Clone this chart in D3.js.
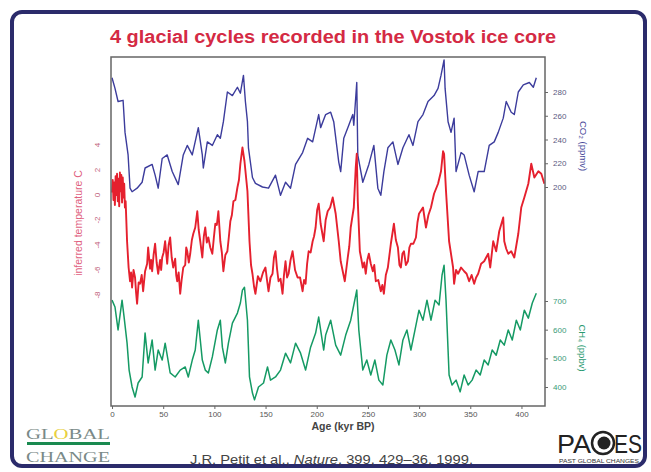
<!DOCTYPE html>
<html>
<head>
<meta charset="utf-8">
<script src="https://cdn.jsdelivr.net/npm/d3@7"></script>
<style>
body{margin:0;background:#fff}
svg{display:block}
</style>
</head>
<body>
<div id="chart"></div>
<script>
// values: [age kyr BP, value]
var tempData = [[0,0.2],[0.7,1.2],[1.4,-0.4],[2.1,1.0],[2.8,-0.8],[3.5,1.5],[4.2,0.0],[4.9,1.7],[5.6,-0.5],[6.3,1.3],
  [7,-0.9],[7.7,1.8],[8.4,0.3],[9.1,1.6],[9.8,-0.6],[10.5,1.4],[11.2,-0.2],[11.9,0.9],[12.6,-1.0],[13.3,-0.5],
  [14.7,-3.7],[16.2,-5.8],[17.6,-6.9],[18.6,-6.2],[19.6,-7.4],[21,-6.0],[22.5,-6.6],[23.5,-7.8],[24.5,-8.7],[26,-7.0],
  [27.4,-7.1],[29,-6.4],[30.4,-7.7],[32.3,-6.1],[34.3,-5.5],[35.3,-4.2],[37.2,-5.9],[38.2,-5.2],[39.2,-6.1],[40.6,-4.8],
  [42.1,-3.9],[43.6,-5.4],[45.1,-6.3],[47,-5.2],[48,-6.0],[49,-5.0],[50.4,-4.6],[51.9,-3.7],[53.9,-5.5],[55.3,-4.0],
  [56.8,-3.4],[58.3,-5.0],[59.8,-5.8],[61.7,-5.1],[62.7,-6.4],[63.7,-6.9],[65.1,-6.2],[66.6,-7.9],[68,-6.8],[69.6,-5.8],
  [71.5,-5.6],[72.5,-4.2],[73.5,-4.5],[75,-5.4],[76.4,-4.7],[78,-3.6],[79.4,-3.1],[81.3,-2.6],[83.3,-1.3],[84.7,-2.8],
  [86.2,-3.7],[88.2,-5.0],[89.7,-3.3],[91.1,-2.6],[92.6,-3.8],[94.1,-3.4],[96,-4.2],[98,-4.7],[99.5,-3.4],[100.9,-2.3],
  [102.4,-2.4],[103.9,-1.3],[105.8,-3.7],[107.3,-4.6],[108.8,-6.1],[110.7,-4.8],[112.7,-4.5],[114.2,-3.3],[115.6,-2.1],[117.1,-1.6],
  [118.6,-0.5],[120.5,-0.4],[122.5,0.6],[124,1.2],[125.4,2.5],[127.4,3.8],[129.4,2.7],[132.3,0.3],[134.3,-3.7],[135.8,-5.6],
  [137.2,-6.3],[138.7,-7.3],[140.1,-7.9],[142.5,-6.5],[145,-6.9],[147.5,-6.2],[149.9,-5.8],[151.4,-6.8],[152.9,-7.7],[154.8,-6.6],
  [156.8,-6.3],[158.2,-5.0],[159.7,-4.5],[161.2,-5.9],[162.7,-6.9],[164.6,-6.7],[166.6,-7.9],[168,-6.4],[169.5,-5.3],[171,-6.6],
  [172.5,-6.3],[174.4,-5.2],[176.4,-4.5],[178.8,-6.0],[181.3,-6.6],[183.7,-6.6],[186.2,-7.7],[187.6,-6.8],[189.1,-7.1],[190.6,-5.5],
  [192.1,-4.5],[194,-4.6],[196,-3.7],[197.4,-3.3],[198.9,-2.6],[200.4,-1.2],[201.9,-0.7],[203.8,-2.3],[206.8,-3.7],[208.7,-2.0],
  [210.7,-1.3],[213.1,-1.0],[215.6,-0.2],[218.5,-1.5],[221.5,-3.7],[223.4,-5.3],[225.4,-6.1],[227.4,-6.9],[230.3,-5.0],[231.8,-4.1],
  [233.2,-2.6],[236.2,-1.0],[238.1,2.2],[239.1,3.3],[240.1,-0.5],[242.1,-4.5],[243.5,-5.1],[245,-5.8],[246.4,-5.4],[247.9,-6.3],
  [249.4,-5.2],[250.9,-4.7],[252.8,-5.5],[254.8,-6.1],[256.2,-5.6],[257.7,-6.9],[260.1,-6.8],[262.6,-7.7],[264.1,-7.2],[265.6,-7.9],
  [267.5,-6.4],[269.5,-5.8],[272.4,-3.9],[275.4,-2.3],[277.3,-3.6],[279.3,-4.2],[280.8,-5.6],[282.2,-5.8],[283.7,-4.7],[285.2,-4.5],
  [287.1,-5.6],[289.1,-5.3],[290.5,-4.2],[292,-3.9],[294.4,-3.9],[296.9,-3.4],[298.4,-2.2],[299.9,-1.5],[303.8,-1.0],[306.7,-2.6],
  [309.1,-1.6],[311.6,-1.0],[314.6,0.1],[318.5,0.9],[321.4,1.9],[323.4,3.5],[324.4,3.3],[326.3,0.3],[329.3,-3.7],[333.2,-5.8],
  [334.2,-7.1],[336.1,-6.0],[338.1,-6.3],[341,-5.8],[344,-6.1],[346.4,-6.3],[348.9,-6.9],[351.3,-6.4],[353.8,-7.1],[355.7,-6.6],
  [357.7,-6.3],[360.6,-5.5],[363.6,-5.3],[365.5,-5.0],[367.5,-4.7],[369.5,-5.8],[372.4,-3.7],[375.3,-4.5],[378.3,-2.9],[382.2,-1.8],
  [383.2,-3.7],[385.1,-4.3],[387.1,-4.7],[390,-4.5],[393,-5.0],[396.9,-3.1],[399.8,-1.0],[402.8,-0.2],[406.7,0.9],[409.6,2.5],
  [412.6,1.4],[416.5,1.9],[419.4,1.7],[422.4,0.9]]

var co2Data = [[0,292],[2.9,283],[5.9,272],[10.8,273],[12.7,246],[15.7,227],[17.6,199],[19.6,196],[24.5,199],[29.4,204],
  [32.3,216],[39.2,219],[42.1,210],[45.1,199],[49,224],[53.9,227],[58.8,213],[64.7,202],[69.6,227],[73.5,235],
  [78.4,227],[84.3,250],[88.2,227],[89.2,216],[93.1,238],[98,235],[102.9,244],[105.8,241],[108.8,255],[112.7,280],
  [117.6,277],[122.5,284],[125.4,279],[128.4,294],[130.3,272],[132.3,255],[133.3,233],[137.2,208],[140.1,203],[147,200],
  [152.9,199],[159.7,210],[164.6,193],[169.5,204],[174.4,199],[179.3,219],[186.2,229],[191.1,241],[196,238],[201.9,261],
  [203.8,250],[208.7,261],[213.6,263],[216.6,255],[221.5,221],[223.4,213],[226.4,241],[231.3,252],[235.2,261],[236.2,252],
  [239.1,288],[240.1,227],[245,204],[250.9,219],[255.8,235],[259.7,199],[262.6,193],[265.6,213],[269.5,233],[274.4,238],
  [279.3,219],[284.2,233],[290.1,244],[294,235],[298.9,255],[303.8,261],[308.7,272],[314.6,277],[318.5,283],[321.4,294],
  [324.4,307],[325.4,283],[328.3,255],[331.2,246],[334.2,258],[336.1,213],[341,229],[344,227],[348.9,210],[353.8,196],
  [357.7,213],[363.6,213],[368.5,235],[373.4,238],[377.3,246],[382.2,258],[385.1,272],[390,263],[393,261],[396.9,280],
  [401.8,286],[407.7,288],[411.6,284],[414.5,292]]

var ch4Data = [[0,703],[2.9,679],[5.9,599],[9.8,703],[11.8,644],[14.7,553],[16.7,459],[19.6,400],[22.5,365],[25.5,414],
  [29.4,435],[32.3,588],[35.3,484],[39.2,564],[42.1,459],[45.1,529],[49,494],[51.9,553],[56.8,449],[61.7,435],
  [66.6,459],[71.5,470],[74.5,435],[78.4,494],[81.3,529],[84.3,633],[88.2,494],[91.1,459],[94.1,449],[98,505],
  [102.9,599],[105.8,633],[107.8,539],[110.7,484],[113.7,553],[117.6,623],[122.5,658],[125.4,693],[127.4,738],[129.4,748],
  [132.3,633],[134.3,435],[137.2,379],[139.2,355],[143.1,400],[148,414],[151.9,470],[154.8,424],[159.7,435],[164.6,459],
  [169.5,518],[174.4,484],[179.3,553],[184.2,518],[189.1,459],[194,539],[198.9,588],[201.9,644],[206.8,529],[208.7,581],
  [213.6,633],[218.5,546],[223.4,511],[228.3,581],[233.2,633],[236.2,686],[239.1,738],[241.1,599],[245,459],[248.9,494],
  [252.8,442],[256.8,494],[260.7,424],[264.6,407],[268.5,511],[272.4,564],[276.4,529],[280.3,477],[284.2,564],[288.1,599],
  [292,529],[296,599],[299.9,668],[303.8,633],[307.7,703],[311.6,633],[315.6,703],[319.5,686],[322.4,790],[324.4,825],
  [326.3,703],[329.3,442],[332.2,407],[336.1,424],[340.1,383],[344,442],[347.9,407],[351.8,424],[355.7,459],[359.7,442],
  [363.6,494],[367.5,477],[371.4,529],[375.3,511],[379.3,564],[383.2,546],[387.1,599],[391,564],[395,633],[398.9,599],
  [402.8,668],[406.7,640],[410.6,693],[414.5,727]]

var ageTicks = [0,50,100,150,200,250,300,350,400]
var tempTicks = [4,2,0,-2,-4,-6,-8]
var co2Ticks = [280,260,240,220,200]
var ch4Ticks = [700,600,500,400]

var W = 651, H = 472
var sans = '"Liberation Sans",Arial,sans-serif'
var serif = '"Liberation Serif","DejaVu Serif",serif'
var svg = d3.select('#chart').append('svg').attr('width',W).attr('height',H)
  .style('font-family',sans)

// navy slide frame
svg.append('rect')
  .attr('x',12).attr('y',12).attr('width',633).attr('height',454).attr('rx',10)
  .attr('fill','#fff').attr('stroke','#2b2b6b').attr('stroke-width',4)

var pLeft = 111, pRight = 545, pTop = 57, pBottom = 406
var x = d3.scaleLinear().domain([-1,423]).range([pLeft,pRight])
var yT = d3.scaleLinear().domain([-8,4]).range([295,145])
var yC = d3.scaleLinear().domain([200,280]).range([187,92])
var yM = d3.scaleLinear().domain([400,700]).range([387,301])

svg.append('text')
  .attr('x',110).attr('y',43)
  .attr('font-size',18).attr('font-weight','bold').attr('fill','#d42a44')
  .attr('textLength',446).attr('lengthAdjust','spacingAndGlyphs')
  .text('4 glacial cycles recorded in the Vostok ice core')

svg.append('defs').append('clipPath').attr('id','plotClip')
  .append('rect').attr('x',pLeft).attr('y',pTop).attr('width',pRight-pLeft).attr('height',pBottom-pTop)

var plot = svg.append('g').attr('clip-path','url(#plotClip)')

function drawLine(data, y, clr, wid){
  plot.append('path')
    .datum(data)
    .attr('fill','none')
    .attr('stroke',clr)
    .attr('stroke-width',wid)
    .attr('stroke-linejoin','round')
    .attr('d', d3.line().x(function(d){return x(d[0])}).y(function(d){return y(d[1])}))
}
drawLine(co2Data, yC, '#3c3c9c', 1.4)
drawLine(ch4Data, yM, '#159a64', 1.5)
drawLine(tempData, yT, '#e5202e', 1.9)

// plot box
svg.append('rect')
  .attr('x',pLeft).attr('y',pTop).attr('width',pRight-pLeft).attr('height',pBottom-pTop)
  .attr('fill','none').attr('stroke','#666').attr('stroke-width',1.5)

// x axis
var xAxis = svg.append('g')
  .attr('transform','translate(0,'+pBottom+')')
  .call(d3.axisBottom(x).tickValues(ageTicks).tickSize(3).tickPadding(2))
xAxis.select('.domain').remove()
xAxis.selectAll('line').attr('stroke','#666')
xAxis.selectAll('text').attr('font-size',8).attr('fill','#555').style('font-family',sans)

svg.append('text')
  .attr('x',343).attr('y',430).attr('text-anchor','middle')
  .attr('font-size',10.5).attr('font-weight','bold').attr('fill','#444')
  .text('Age (kyr BP)')

// left temperature axis, labels turned sideways
svg.append('g').selectAll('text').data(tempTicks).enter().append('text')
  .attr('transform',function(d){return 'translate(97,'+yT(d)+') rotate(-90)'})
  .attr('text-anchor','middle').attr('dy','0.35em')
  .attr('font-size',8).attr('fill','#c0607a')
  .text(function(d){return d})
svg.append('text')
  .attr('transform','translate(78,223) rotate(-90)')
  .attr('text-anchor','middle').attr('dy','0.35em')
  .attr('font-size',10.5).attr('fill','#e0607e')
  .text('inferred temperature C')

// right CO2 axis
var cAxis = svg.append('g')
  .attr('transform','translate('+pRight+',0)')
  .call(d3.axisRight(yC).tickValues(co2Ticks).tickSize(3).tickPadding(5))
cAxis.select('.domain').remove()
cAxis.selectAll('line').attr('stroke','#666')
cAxis.selectAll('text').attr('font-size',8).attr('fill','#5a5a80').style('font-family',sans)
svg.append('text')
  .attr('transform','translate(583,146) rotate(90)')
  .attr('text-anchor','middle').attr('dy','0.35em')
  .attr('font-size',9.5).attr('fill','#4a4a9a')
  .text('CO\u2082 (ppmv)')

// right CH4 axis
var mAxis = svg.append('g')
  .attr('transform','translate('+pRight+',0)')
  .call(d3.axisRight(yM).tickValues(ch4Ticks).tickSize(3).tickPadding(5))
mAxis.select('.domain').remove()
mAxis.selectAll('line').attr('stroke','#666')
mAxis.selectAll('text').attr('font-size',8).attr('fill','#3a9a78').style('font-family',sans)
svg.append('text')
  .attr('transform','translate(582,348) rotate(90)')
  .attr('text-anchor','middle').attr('dy','0.35em')
  .attr('font-size',9.5).attr('fill','#2a9a70')
  .text('CH\u2084 (ppbv)')

// citation
var cite = svg.append('text')
  .attr('x',190).attr('y',464)
  .attr('font-size',13).attr('fill','#444')
  .attr('textLength',283).attr('lengthAdjust','spacingAndGlyphs')
cite.append('tspan').text('J.R. Petit et al., ')
cite.append('tspan').attr('font-style','italic').text('Nature')
cite.append('tspan').text(', 399, 429\u201336, 1999.')

// GLOBAL CHANGE logo
var glt = svg.append('text').attr('x',26).attr('y',439).style('font-family',serif)
  .attr('font-size',15).attr('fill','#7a8a88').attr('textLength',84).attr('lengthAdjust','spacingAndGlyphs')
glt.append('tspan').text('GL')
glt.append('tspan').attr('fill','#e8d040').text('O')
glt.append('tspan').text('BAL')
svg.append('rect').attr('x',27).attr('y',442).attr('width',83).attr('height',3).attr('fill','#1a8a50')
svg.append('text').attr('x',26).attr('y',462).style('font-family',serif)
  .attr('font-size',14).attr('fill','#7a8a88').attr('textLength',84).attr('lengthAdjust','spacingAndGlyphs')
  .text('CHANGE')

// PAGES logo
var pg = svg.append('g')
pg.append('text').attr('x',557).attr('y',453).attr('font-size',25)
  .attr('fill','#222').attr('textLength',34).attr('lengthAdjust','spacingAndGlyphs').text('PA')
pg.append('circle').attr('cx',603).attr('cy',443).attr('r',11).attr('fill','none').attr('stroke','#222').attr('stroke-width',2.5)
pg.append('circle').attr('cx',604).attr('cy',443).attr('r',6.5).attr('fill','#222')
pg.append('text').attr('x',614).attr('y',453).attr('font-size',25)
  .attr('fill','#222').attr('textLength',28).attr('lengthAdjust','spacingAndGlyphs').text('ES')
pg.append('text').attr('x',599).attr('y',463).attr('text-anchor','middle').attr('font-size',4.5)
  .attr('fill','#333').attr('textLength',80).attr('lengthAdjust','spacingAndGlyphs').text('PAST GLOBAL CHANGES')
</script>
</body>
</html>
